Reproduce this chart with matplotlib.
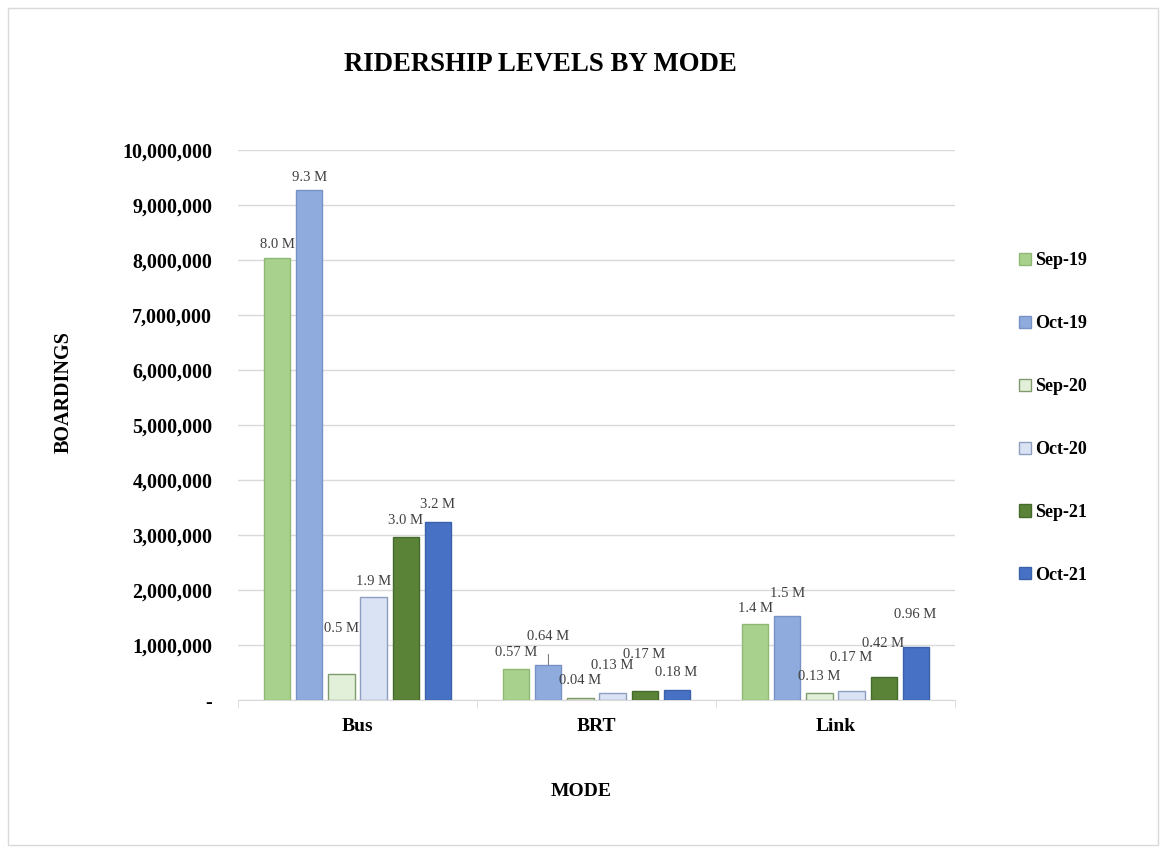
import matplotlib
matplotlib.use("Agg")
import matplotlib.pyplot as plt
import numpy as np
from matplotlib.patches import Rectangle
from matplotlib.ticker import FuncFormatter

plt.rcParams['font.family'] = ['Liberation Serif', 'DejaVu Serif']

# ridership data, boardings per month
modes = ['Bus', 'BRT', 'Link']
periods = ['Sep-19', 'Oct-19', 'Sep-20', 'Oct-20', 'Sep-21', 'Oct-21']
boardings = {
    'Sep-19': [8.03e6, 0.57e6, 1.38e6],
    'Oct-19': [9.27e6, 0.64e6, 1.52e6],
    'Sep-20': [0.48e6, 0.04e6, 0.13e6],
    'Oct-20': [1.87e6, 0.13e6, 0.17e6],
    'Sep-21': [2.97e6, 0.17e6, 0.42e6],
    'Oct-21': [3.24e6, 0.18e6, 0.96e6],
}
labels = {
    'Sep-19': ['8.0 M', '0.57 M', '1.4 M'],
    'Oct-19': ['9.3 M', '0.64 M', '1.5 M'],
    'Sep-20': ['0.5 M', '0.04 M', '0.13 M'],
    'Oct-20': ['1.9 M', '0.13 M', '0.17 M'],
    'Sep-21': ['3.0 M', '0.17 M', '0.42 M'],
    'Oct-21': ['3.2 M', '0.18 M', '0.96 M'],
}

# style
colors = ['#a9d18e', '#8faadc', '#e2f0d9', '#dae3f3', '#5a8338', '#4671c4']
edges = ['#8fb874', '#7793c6', '#7f9a6c', '#8d9ec0', '#456a2b', '#3a62ab']
# label height above bar top (pixels), as placed in the original
lab_off = {
    'Sep-19': [14, 16, 16],
    'Oct-19': [13, 28, 23],
    'Sep-20': [45, 17, 16],
    'Oct-20': [16, 27, 33],
    'Sep-21': [16, 36, 33],
    'Oct-21': [17, 18, 33],
}

fig = plt.figure(figsize=(11.61, 8.48), dpi=100)
ax = fig.add_axes([238 / 1161, 148 / 848, 717 / 1161, 550 / 848])

x = np.arange(len(modes))
pitch = 0.134
width = 0.109
for i, p in enumerate(periods):
    xs = x + (i - 2.5) * pitch
    ax.bar(xs, boardings[p], width=width, color=colors[i], edgecolor=edges[i],
           linewidth=1, label=p, zorder=3)
    for j in range(len(modes)):
        off = lab_off[p][j]
        arrow = None
        if p == 'Oct-19' and modes[j] == 'BRT':
            arrow = dict(arrowstyle='-', color='#7f7f7f', lw=0.8, shrinkA=6, shrinkB=0)
        ax.annotate(labels[p][j], (xs[j], boardings[p][j]), xytext=(0, off),
                    textcoords='offset pixels', ha='center', va='center',
                    fontsize=10.5, color='#404040', arrowprops=arrow, zorder=4)

ax.set_xlim(-0.5, 2.5)
ax.set_ylim(0, 10e6)
ax.set_yticks(np.arange(0, 10.5e6, 1e6))
ax.yaxis.set_major_formatter(FuncFormatter(lambda v, _: '-' if v == 0 else f'{v:,.0f}'))
ax.set_xticks(x)
ax.set_xticklabels(modes)
ax.set_xticks([-0.5, 0.5, 1.5, 2.5], minor=True)
ax.tick_params(axis='x', which='major', length=0, pad=13, labelsize=14)
ax.tick_params(axis='x', which='minor', length=6, color='#d9d9d9')
ax.tick_params(axis='y', length=0, pad=18.5, labelsize=14.4)
for t in ax.get_xticklabels() + ax.get_yticklabels():
    t.set_fontweight('bold')

ax.grid(axis='y', color='#d9d9d9', linewidth=1, zorder=0)
for s in ['top', 'right', 'left']:
    ax.spines[s].set_visible(False)
ax.spines['bottom'].set_color('#d9d9d9')

fig.text(0.4655, 0.9245, 'RIDERSHIP LEVELS BY MODE', ha='center', va='center',
         fontsize=19.3, fontweight='bold')
fig.text(0.0551, 0.5377, 'BOARDINGS', rotation=90, ha='center', va='center',
         fontsize=14.5, fontweight='bold')
fig.text(0.5004, 0.0665, 'MODE', ha='center', va='center', fontsize=14, fontweight='bold')

fig.legend(loc='center left', bbox_to_anchor=(0.8637, 0.507), frameon=False,
           prop={'weight': 'bold', 'size': 13}, handlelength=0.66, handleheight=0.66,
           handletextpad=0.22, labelspacing=2.54)

fig.patches.append(Rectangle((0.007, 0.003), 0.99, 0.988, transform=fig.transFigure,
                             fill=False, edgecolor='#d9d9d9', linewidth=1))

fig.savefig('out.png', dpi=100)
